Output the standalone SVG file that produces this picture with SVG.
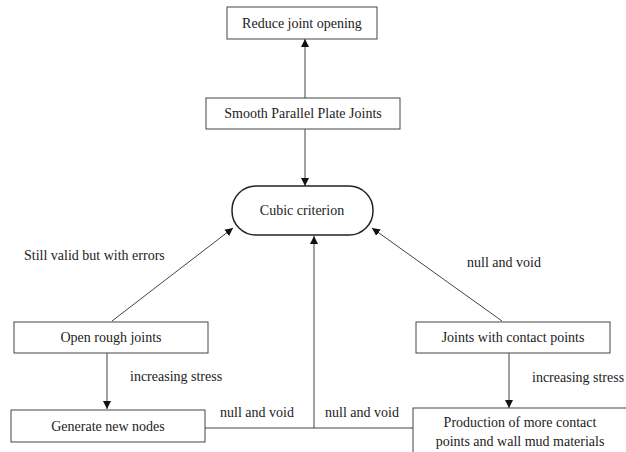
<svg xmlns="http://www.w3.org/2000/svg" width="626" height="452" viewBox="0 0 626 452" font-family="'Liberation Serif', 'Times New Roman', Times, serif">
  <style>
    .box { fill: #fff; stroke: #444; stroke-width: 1; }
    .pill { fill: #fff; stroke: #222; stroke-width: 1.5; }
    .edge { fill: none; stroke: #444; stroke-width: 1; }
    text { font-family: 'Liberation Serif', 'Times New Roman', Times, serif; font-size: 14px; fill: #222; }
    .c { text-anchor: middle; }
  </style>
  <defs>
    <marker id="arrow" viewBox="0 0 10 10" refX="10" refY="5" markerWidth="8" markerHeight="8" markerUnits="userSpaceOnUse" orient="auto">
      <path d="M0,0 L10,5 L0,10 Z" fill="#111"/>
    </marker>
  </defs>
  <rect width="626" height="452" fill="#fff"/>

  <g id="connectors">
    <line class="edge" x1="305" y1="98" x2="305" y2="39" marker-end="url(#arrow)"/>
    <line class="edge" x1="305" y1="129" x2="305" y2="186" marker-end="url(#arrow)"/>
    <line class="edge" x1="112" y1="321" x2="233" y2="228" marker-end="url(#arrow)"/>
    <line class="edge" x1="502" y1="321" x2="372" y2="228" marker-end="url(#arrow)"/>
    <line class="edge" x1="107" y1="353" x2="107" y2="409" marker-end="url(#arrow)"/>
    <line class="edge" x1="509" y1="353" x2="509" y2="408" marker-end="url(#arrow)"/>
    <polyline class="edge" points="205,428 314,428 314,236" marker-end="url(#arrow)"/>
    <line class="edge" x1="413" y1="428" x2="314" y2="428"/>
    <text x="24" y="260">Still valid but with errors</text>
    <text x="467" y="267">null and void</text>
    <text x="130" y="381">increasing stress</text>
    <text x="532" y="382">increasing stress</text>
    <text x="220" y="417">null and void</text>
    <text x="325" y="417">null and void</text>
  </g>

  <g id="reduce">
    <rect class="box" x="227" y="7" width="150" height="32"/>
    <text class="c" x="302" y="28">Reduce joint opening</text>
  </g>
  <g id="smooth">
    <rect class="box" x="206" y="98" width="194" height="31"/>
    <text class="c" x="303" y="118">Smooth Parallel Plate Joints</text>
  </g>
  <g id="cubic">
    <rect class="pill" x="232" y="186" width="141" height="49" rx="24" ry="24"/>
    <text class="c" x="302" y="215">Cubic criterion</text>
  </g>
  <g id="open-rough">
    <rect class="box" x="14" y="322" width="194" height="31"/>
    <text class="c" x="111" y="342">Open rough joints</text>
  </g>
  <g id="contact-joints">
    <rect class="box" x="416" y="322" width="194" height="31"/>
    <text class="c" x="513" y="342">Joints with contact points</text>
  </g>
  <g id="new-nodes">
    <rect class="box" x="11" y="410" width="194" height="32"/>
    <text class="c" x="108" y="431">Generate new nodes</text>
  </g>
  <g id="production">
    <rect class="box" x="413" y="408" width="220" height="50"/>
    <text class="c" x="520" y="427">Production of more contact</text>
    <text class="c" x="520" y="446">points and wall mud materials</text>
  </g>
</svg>
